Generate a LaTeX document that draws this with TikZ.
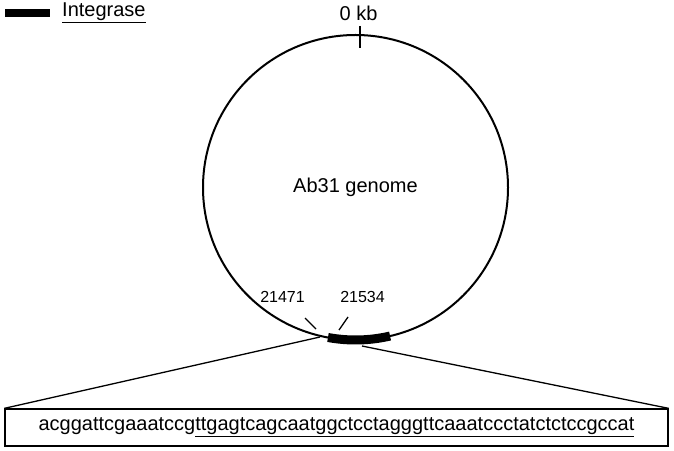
\documentclass[tikz,border=0pt]{standalone}
\usepackage{fontspec}
\setmainfont{Liberation Sans}
\begin{document}
\begin{tikzpicture}[x=1pt,y=1pt,
  lbl/.style={font=\fontsize{20}{24}\selectfont, inner sep=0pt},
  small/.style={font=\fontsize{16}{19}\selectfont, inner sep=0pt},
  thin line/.style={line width=1.3pt},
  gene/.style={line width=9pt, line cap=butt}]
\useasboundingbox (0,0) rectangle (674,450);
% legend
\node[fill=black, minimum width=45pt, minimum height=8pt, inner sep=0pt] (leg) at (27.5,437) {};
\node[lbl, anchor=west] (legtext) at (62,437) {\underline{Integrase}};
% genome circle
\node[draw, circle, line width=2pt, minimum size=305pt, inner sep=0pt, lbl] (g) at (355.5,262.5) {Ab31 genome};
% 0 kb
\node[lbl] (zero) at (358.5,437) {0 kb};
\coordinate (t1) at (360,424);
\coordinate (t2) at (360,402);
\draw[thin line] (t1) -- (t2);
% positions
\node[small] (p1) at (282.5,153) {21471};
\node[small] (p2) at (362.5,153) {21534};
\coordinate (a1) at (305,132);
\coordinate (a2) at (316,121);
\coordinate (b1) at (348,133);
\coordinate (b2) at (339,120);
\draw[thin line] (a1) -- (a2);
\draw[thin line] (b1) -- (b2);
% integrase gene
\draw[gene] (g.center) ++(259.6:152.5) coordinate (gs) arc (259.6:283.1:152.5) coordinate (ge);
% sequence box
\node[draw, thin line, minimum width=663pt, minimum height=37pt, inner sep=0pt, lbl] (box) at (336.5,22.5)
  {acggattcgaaatccg\underline{ttgagtcagcaatggctcctagggttcaaatccctatctctccgccat}};
\coordinate (zl) at (320,113);
\coordinate (zr) at (362,104);
\draw[thin line] (box.north west) -- (zl);
\draw[thin line] (zr) -- (box.north east);
\end{tikzpicture}
\end{document}
